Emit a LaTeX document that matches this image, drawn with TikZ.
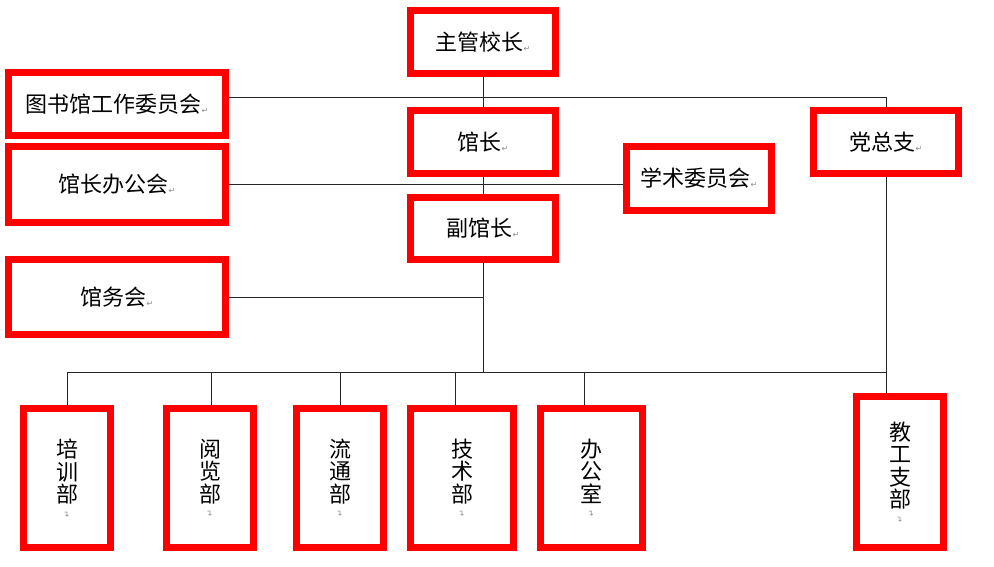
\documentclass[tikz,border=0pt]{standalone}
\usepackage{fontspec}
\newfontfamily\cjk{Noto Sans CJK SC}
\newfontfamily\djv{DejaVu Sans}
\newcommand{\retmark}{{\djv\fontsize{8}{8}\selectfont\color{black!45}\raisebox{-1pt}{↵}}}
\newcommand{\retmarkv}{{\djv\fontsize{8}{8}\selectfont\color{black!45}\rotatebox{90}{↵}}}
\tikzset{
  box/.style={draw=red, line width=7pt, fill=white, inner sep=0pt, align=center,
    font=\cjk\fontsize{22}{22.5}\selectfont},
  conn/.style={draw=black!85, line width=1pt}
}
\begin{document}
\begin{tikzpicture}[x=1pt,y=-1pt]
\useasboundingbox[fill=white] (0,0) rectangle (994,567);
% top column
\node[box, minimum width=145pt, minimum height=63pt] (A) at (483,42) {主管校长\retmark};
\node[box, minimum width=145pt, minimum height=63pt] (B) at (483,142) {馆长\retmark};
\node[box, minimum width=145pt, minimum height=62pt] (C) at (483,228.5) {副馆长\retmark};
% left column
\node[box, minimum width=217pt, minimum height=63pt] (D) at (117,104) {图书馆工作委员会\retmark};
\node[box, minimum width=217pt, minimum height=76pt] (E) at (117,184.5) {馆长办公会\retmark};
\node[box, minimum width=217pt, minimum height=75pt] (F) at (117,297) {馆务会\retmark};
% right
\node[box, minimum width=145pt, minimum height=64pt] (G) at (699,178.5) {学术委员会\retmark};
\node[box, minimum width=145pt, minimum height=63pt] (H) at (886,142) {党总支\retmark};
% bottom
\node[box, minimum width=87pt, minimum height=139pt] (I) at (67,478) {培\\训\\部\\[-8pt]\retmarkv};
\node[box, minimum width=87pt, minimum height=139pt] (J) at (210,478) {阅\\览\\部\\[-8pt]\retmarkv};
\node[box, minimum width=87pt, minimum height=139pt] (K) at (340,478) {流\\通\\部\\[-8pt]\retmarkv};
\node[box, minimum width=103pt, minimum height=139pt] (L) at (462,478) {技\\术\\部\\[-8pt]\retmarkv};
\node[box, minimum width=102pt, minimum height=139pt] (M) at (591.5,478) {办\\公\\室\\[-8pt]\retmarkv};
\node[box, minimum width=87pt, minimum height=151pt] (N) at (900,472) {教\\工\\支\\部\\[-8pt]\retmarkv};
% coordinates
\coordinate (spine) at (483,372);
\coordinate (fj) at (483,297);
\coordinate (busL) at (67,372);
\coordinate (busR) at (886,372);
\coordinate (dI) at (67,372);
\coordinate (dJ) at (211,372);
\coordinate (dK) at (340,372);
\coordinate (dL) at (455,372);
\coordinate (dM) at (584,372);
% connectors
\draw[conn] (A.south) -- (B.north);
\draw[conn] (B.south) -- (C.north);
\draw[conn] (C.south) -- (spine);
\draw[conn] ([yshift=6pt]D.east) -| (H.north);
\draw[conn] (E.east) -- (E.east -| G.west);
\draw[conn] (F.east) -- (fj);
\draw[conn] (H.south) -- (busR);
\draw[conn] (busL) -- (busR);
\draw[conn] (dI) -- (dI |- I.north);
\draw[conn] (dJ) -- (dJ |- J.north);
\draw[conn] (dK) -- (dK |- K.north);
\draw[conn] (dL) -- (dL |- L.north);
\draw[conn] (dM) -- (dM |- M.north);
\draw[conn] (busR) -- (busR |- N.north);
\end{tikzpicture}
\end{document}
